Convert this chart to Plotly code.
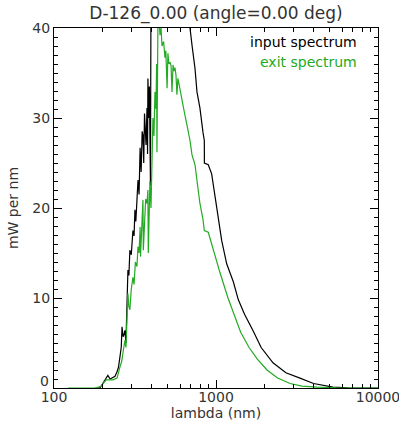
import plotly.graph_objects as go

# Input spectrum (black): wavelength (nm) and power (mW per nm)
input_nm = [180, 192, 200, 215, 222, 231, 238, 245, 250, 255, 260, 263, 267, 271, 274, 278,
            282, 286, 290, 294, 300, 307, 312, 316, 320, 325, 330, 335, 340, 345, 350, 354,
            358, 362, 365, 370, 375, 378, 380, 385, 388, 391, 394, 397, 420, 480, 550, 620,
            680, 691, 711, 742, 763, 796, 831, 847, 848, 896, 940, 1010, 1084, 1164, 1279,
            1374, 1500, 1691, 1900, 2248, 2700, 3300, 4000, 5272, 6500, 10000]
input_mw = [0, 0, 0.5, 1.4, 1.0, 1.2, 1.3, 1.8, 2.3, 3.4, 4.5, 6.8, 5.7, 6.0, 6.4, 5.0,
            9.8, 13.1, 12.5, 15.3, 14.8, 17.5, 16.9, 19.8, 18.5, 22.0, 23.1, 21.5, 26.7, 24.0, 28.5, 28.1,
            25.0, 30.5, 29.0, 27.0, 31.1, 26.0, 34.4, 30.0, 33.5, 28.0, 22.5, 45, 55, 60, 58, 52,
            42, 40, 38.1, 35.5, 32.9, 31.1, 28.4, 27.5, 25.0, 24.8, 23.8, 20.1, 16.4, 13.8, 11.8,
            9.8, 8.2, 6.4, 4.5, 2.8, 1.7, 1.1, 0.5, 0.1, 0.03, 0]

# Exit spectrum (green)
exit_nm = [122, 180, 195, 210, 231, 245, 255, 262, 267, 274, 278, 282, 286, 290, 294, 300,
           307, 312, 318, 325, 330, 335, 340, 342, 348, 354, 356, 362, 368, 375, 380, 382,
           386, 391, 397, 400, 403, 408, 414, 420, 426, 430, 432, 434, 438, 445, 451, 458,
           464, 475, 484, 490, 499, 505, 512, 520, 528, 535, 543, 550, 558, 566, 574, 582,
           600, 617, 640, 662, 691, 711, 742, 770, 796, 830, 847, 896, 962, 1059, 1186, 1300,
           1406, 1420, 1600, 1800, 2064, 2400, 2864, 3400, 4200, 5500, 10000]
exit_mw = [0, 0, 0.2, 0.9, 0.9, 1.1, 2.3, 3.0, 4.0, 5.3, 4.5, 7.6, 10.5, 9.0, 8.7, 11.0,
           12.3, 11.5, 14.0, 13.5, 15.7, 15.0, 17.9, 14.6, 19.0, 20.9, 15.3, 19.5, 21.0, 20.5, 22.0, 15.0,
           21.0, 23.0, 20.0, 24.0, 22.9, 30.0, 28.0, 32.9, 31.0, 36.0, 26.2, 38.1, 40.5, 41.0, 39.2, 40.0,
           38.0, 38.5, 36.7, 37.5, 33.3, 37.2, 36.0, 36.2, 35.8, 32.9, 35.9, 35.2, 35.6, 34.8, 32.6, 34.4,
           33.0, 31.8, 30.5, 29.2, 27.5, 25.9, 24.8, 22.5, 20.5, 18.8, 17.5, 17.3, 15.3, 12.8, 10.0, 8.0,
           6.4, 6.2, 4.5, 3.2, 2.0, 1.1, 0.5, 0.2, 0.1, 0.03, 0]

x_ticks = [100, 1000, 10000]
x_minor = [200, 300, 400, 500, 600, 700, 800, 900, 2000, 3000, 4000, 5000, 6000, 7000, 8000, 9000]
y_ticks = [0, 10, 20, 30, 40]

FONT = "DejaVu Sans"
TXT = "#333333"

fig = go.Figure()
fig.add_trace(go.Scatter(x=input_nm, y=input_mw, mode="lines",
                         line=dict(color="black", width=1.2), showlegend=False))
fig.add_trace(go.Scatter(x=exit_nm, y=exit_mw, mode="lines",
                         line=dict(color="#22aa22", width=1.2), showlegend=False))

axis_common = dict(showline=True, linecolor="black", linewidth=1, mirror="ticks",
                   ticks="inside", ticklen=8, tickcolor="black", showgrid=False, zeroline=False,
                   tickfont=dict(family=FONT, size=14, color=TXT))

fig.update_xaxes(type="log", range=[2, 4], tickvals=x_ticks, ticktext=[str(v) for v in x_ticks],
                 ticklabeloverflow="allow", ticklabelstandoff=-4,
                 minor=dict(ticks="inside", ticklen=4, tickvals=x_minor, tickcolor="black"),
                 title=dict(text="lambda (nm)", font=dict(family=FONT, size=14, color=TXT), standoff=0),
                 **axis_common)
# the lowest y label is drawn separately, lifted slightly above its tick as in the reference
fig.update_yaxes(range=[0, 40], tickvals=y_ticks,
                 ticktext=["" if v == y_ticks[0] else str(v) for v in y_ticks],
                 minor=dict(ticks="inside", ticklen=4, dtick=1, tickcolor="black"),
                 title=dict(text="mW per nm", font=dict(family=FONT, size=14, color=TXT), standoff=10),
                 **axis_common)
fig.add_annotation(text=str(y_ticks[0]), xref="paper", x=0, yref="y", y=y_ticks[0],
                   xanchor="right", yanchor="middle", xshift=-3, yshift=7, showarrow=False,
                   font=dict(family=FONT, size=14, color=TXT))

fig.add_annotation(text="input spectrum", xref="paper", yref="paper", x=0.941, y=0.961,
                   xanchor="right", yanchor="middle", showarrow=False,
                   font=dict(family=FONT, size=14, color="black"))
fig.add_annotation(text="exit spectrum", xref="paper", yref="paper", x=0.941, y=0.906,
                   xanchor="right", yanchor="middle", showarrow=False,
                   font=dict(family=FONT, size=14, color="#22aa22"))

fig.update_layout(
    width=399, height=428,
    margin=dict(l=54, r=21, t=28, b=40, autoexpand=False),
    paper_bgcolor="white", plot_bgcolor="white",
    title=dict(text="D-126_0.00 (angle=0.00 deg)", x=0.5, xref="paper", y=0.97, yref="container",
               xanchor="center", yanchor="middle", font=dict(family=FONT, size=17, color=TXT)),
)

fig.write_html("out.html")
